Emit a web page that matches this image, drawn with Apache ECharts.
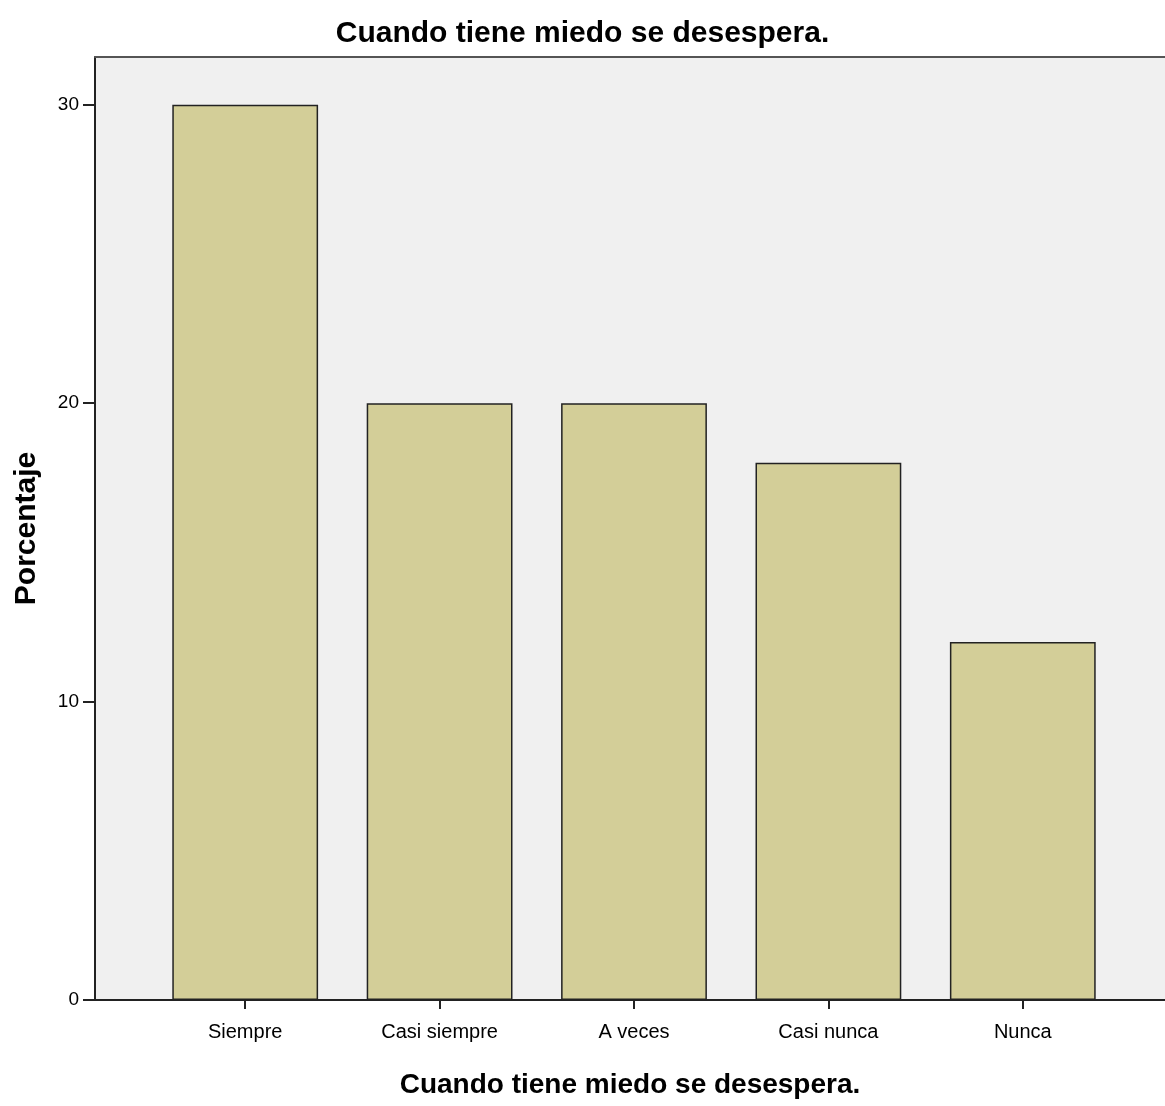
<!DOCTYPE html>
<html>
<head>
<meta charset="utf-8">
<script src="https://cdn.jsdelivr.net/npm/echarts@6/dist/echarts.min.js"></script>
<style>
html,body{margin:0;padding:0;background:#fff;}
#chart{width:1165px;height:1106px;}
</style>
</head>
<body>
<div id="chart"></div>
<script>
const titleText = 'Cuando tiene miedo se desespera.';
const categories = ['Siempre', 'Casi siempre', 'A veces', 'Casi nunca', 'Nunca'];
const percentages = [30, 20, 20, 18, 12];
const yTicks = [0, 10, 20, 30];

const font = 'Liberation Sans, Arial, sans-serif';
const yMax = 31.6;

const chart = echarts.init(document.getElementById('chart'));
chart.setOption({
  animation: false,
  backgroundColor: '#ffffff',
  title: {
    text: titleText,
    left: 'center',
    top: 14,
    textStyle: { fontFamily: font, fontSize: 30, fontWeight: 'bold', color: '#000' }
  },
  grid: [
    { left: 95, right: 0, top: 57, bottom: 106, show: true, backgroundColor: '#f0f0f0', borderWidth: 0, outerBoundsMode: 'none', containLabel: false },
    { left: 148, right: 45, top: 57, bottom: 106, outerBoundsMode: 'none', containLabel: false }
  ],
  xAxis: [
    {
      gridIndex: 0, type: 'value', min: 0, max: 1, position: 'bottom',
      axisLine: { show: true, lineStyle: { color: '#222', width: 2 } },
      axisTick: { show: false }, axisLabel: { show: false }, splitLine: { show: false },
      name: titleText, nameLocation: 'middle', nameGap: 71, nameMoveOverlap: false,
      nameTextStyle: { fontFamily: font, fontSize: 28, fontWeight: 'bold', color: '#000' }
    },
    {
      gridIndex: 0, type: 'value', min: 0, max: 1, position: 'top',
      axisLine: { show: true, lineStyle: { color: '#555', width: 2 } },
      axisTick: { show: false }, axisLabel: { show: false }, splitLine: { show: false }
    },
    {
      gridIndex: 1, type: 'category', data: categories, position: 'bottom',
      axisLine: { show: false },
      axisTick: { show: true, alignWithLabel: true, length: 9, lineStyle: { color: '#222', width: 2 } },
      axisLabel: { fontFamily: font, fontSize: 20, color: '#000', margin: 22 }
    }
  ],
  yAxis: [
    {
      gridIndex: 0, type: 'value', min: 0, max: yMax,
      axisLine: { show: true, lineStyle: { color: '#222', width: 2 } },
      axisTick: { show: true, length: 12, customValues: yTicks, lineStyle: { color: '#222', width: 2 } },
      axisLabel: { fontFamily: font, fontSize: 19, color: '#000', margin: 16, customValues: yTicks },
      splitLine: { show: false },
      name: 'Porcentaje', nameLocation: 'middle', nameGap: 53, nameRotate: 90, nameMoveOverlap: false,
      nameTextStyle: { fontFamily: font, fontSize: 30, fontWeight: 'bold', color: '#000' }
    },
    {
      gridIndex: 1, type: 'value', min: 0, max: yMax, show: false
    }
  ],
  series: [{
    type: 'bar',
    xAxisIndex: 2,
    yAxisIndex: 1,
    data: percentages,
    barWidth: '75%',
    itemStyle: { color: '#d3ce98', borderColor: '#222', borderWidth: 1.5 }
  }]
});
</script>
</body>
</html>
